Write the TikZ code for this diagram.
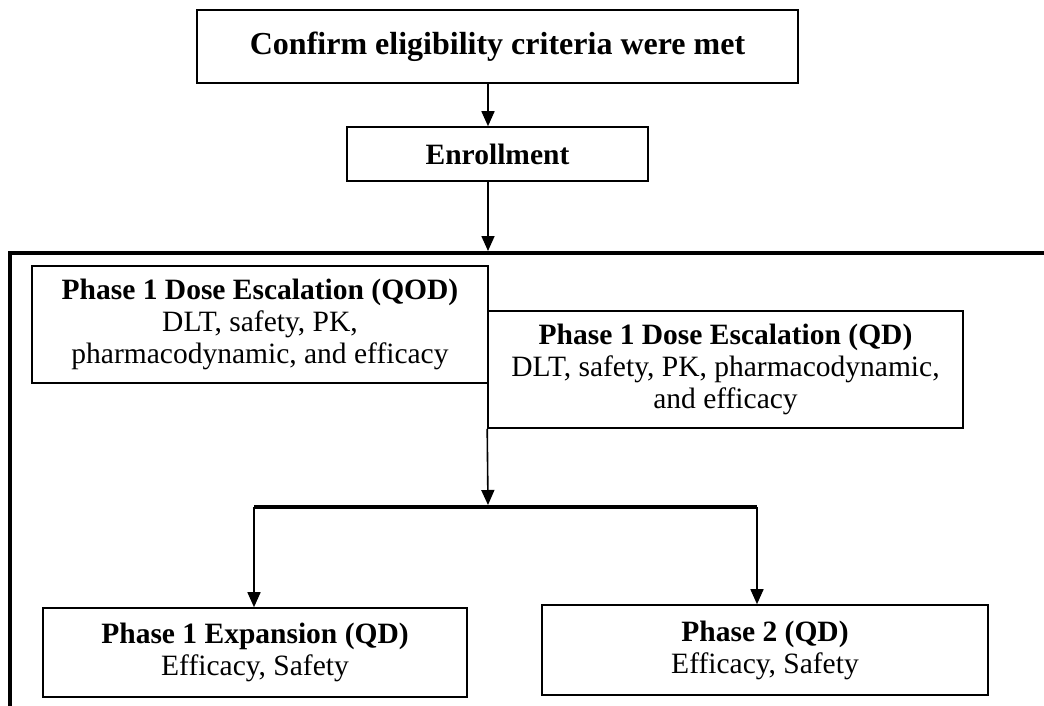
\documentclass[tikz,border=0pt]{standalone}
\usepackage{fontspec}
\setmainfont{Liberation Serif}
\usetikzlibrary{arrows.meta, positioning}

\begin{document}
\begin{tikzpicture}[x=1pt, y=-1pt,
    box/.style={draw, line width=1.6pt, fill=white, align=center, inner sep=0pt,
      font=\fontsize{29.5}{32}\selectfont},
    arr/.style={line width=1.6pt, -{Triangle[width=13pt,length=15pt]}},
    heavy/.style={line width=4.5pt}]
  \useasboundingbox (0,0) rectangle (1044,706);

  % screening and enrollment
  \node[box, minimum width=601pt, minimum height=73pt, font=\fontsize{32}{34}\selectfont] (elig) at (497.5,46.5)
    {\textbf{Confirm eligibility criteria were met}};
  \node[box, minimum width=301pt, minimum height=54pt] (enroll) at (497.5,154)
    {\textbf{Enrollment}};

  % study frame
  \coordinate (frameBL) at (10,706);
  \coordinate (frameTL) at (10,253);
  \coordinate (frameTR) at (1044,253);
  \coordinate (entry) at (488,251);
  \draw[heavy] (frameBL) -- (frameTL) -- (frameTR);

  % dose escalation
  \node[box, minimum width=456pt, minimum height=117pt] (qod) at (260,324.5)
    {\textbf{Phase 1 Dose Escalation (QOD)}\\DLT, safety, PK,\\pharmacodynamic, and efficacy};
  \node[box, minimum width=475pt, minimum height=117pt] (qd) at (725.5,369.5)
    {\textbf{Phase 1 Dose Escalation (QD)}\\DLT, safety, PK, pharmacodynamic,\\and efficacy};

  % split
  \coordinate (split) at (488,505);
  \coordinate (barL) at (254,507);
  \coordinate (barR) at (757,507);

  % expansion and phase 2
  \node[box, minimum width=424pt, minimum height=89pt] (expan) at (255,652.5)
    {\textbf{Phase 1 Expansion (QD)}\\Efficacy, Safety};
  \node[box, minimum width=446pt, minimum height=90pt] (ph2) at (765,650)
    {\textbf{Phase 2 (QD)}\\Efficacy, Safety};

  \draw[arr] (elig.south -| entry) -- (enroll.north -| entry);
  \draw[arr] (enroll.south -| entry) -- (entry);
  \draw[arr] (qd.south west) -- (split);
  \draw[heavy] (barL) -- (barR);
  \draw[arr] (barL) -- (barL |- expan.north);
  \draw[arr] (barR) -- (barR |- ph2.north);
\end{tikzpicture}
\end{document}
